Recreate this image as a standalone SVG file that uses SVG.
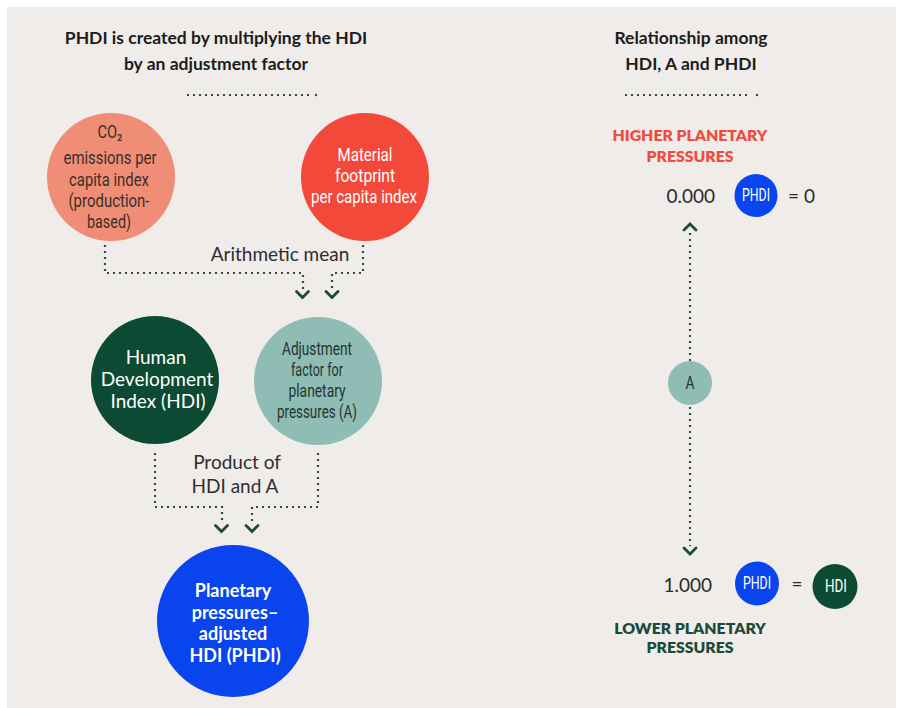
<svg xmlns="http://www.w3.org/2000/svg" width="899" height="708" viewBox="0 0 899 708">
  <defs>
    <style>
      .title { font-family: Lato, "Open Sans", sans-serif; font-weight: 700; font-size: 17.5px; fill: #1c1c1c; text-anchor: middle; }
      .cond { font-family: Roboto, "Liberation Sans", sans-serif; font-size: 17.5px; text-anchor: middle; }
      .body { font-family: Lato, "Open Sans", sans-serif; font-size: 19px; text-anchor: middle; }
      .bold { font-family: Lato, "Open Sans", sans-serif; font-weight: 700; font-size: 18px; text-anchor: middle; fill: #ffffff; }
      .caps { font-family: Lato, "Open Sans", sans-serif; font-weight: 800; font-size: 15.8px; text-anchor: middle; }
      .num { font-family: Lato, "Open Sans", sans-serif; font-size: 19px; fill: #2a2a2a; }
      .dots { fill: none; stroke: #2c4d40; stroke-width: 2.2; stroke-dasharray: 2 4; }
      .chev { fill: none; stroke: #1d4a38; stroke-width: 2.8; stroke-linecap: round; stroke-linejoin: miter; }
    </style>
  </defs>

  <!-- page -->
  <rect x="0" y="0" width="899" height="708" fill="#ffffff"/>
  <rect x="7" y="7" width="889" height="701" fill="#efecea"/>

  <!-- headings -->
  <g id="heading-left">
    <text class="title" x="216" y="44">PHDI is created by multiplying the HDI</text>
    <text class="title" x="216" y="70">by an adjustment factor</text>
    <line class="dots" x1="187" y1="95" x2="309" y2="95"/>
    <circle cx="316" cy="95" r="1.2" fill="#2c4d40"/>
  </g>
  <g id="heading-right">
    <text class="title" x="691" y="44">Relationship among</text>
    <text class="title" x="691" y="70">HDI, A and PHDI</text>
    <line class="dots" x1="625" y1="95" x2="750" y2="95"/>
    <circle cx="757" cy="95" r="1.2" fill="#2c4d40"/>
  </g>

  <!-- connectors -->
  <g id="connectors">
    <path class="dots" d="M105 245 V273 H303 V290"/>
    <path class="dots" d="M363 245 V273 H332 V290"/>
    <path class="chev" d="M296.5 291.5 L302.5 297.5 L308.5 291.5"/>
    <path class="chev" d="M326 291.5 L332 297.5 L338 291.5"/>

    <path class="dots" d="M155 453 V507 H222 V524"/>
    <path class="dots" d="M318 453 V507 H252 V524"/>
    <path class="chev" d="M215.5 525.5 L221.5 531.5 L227.5 525.5"/>
    <path class="chev" d="M246 525.5 L252 531.5 L258 525.5"/>

    <line class="dots" x1="690" y1="233" x2="690" y2="361"/>
    <line class="dots" x1="690" y1="407" x2="690" y2="546"/>
    <path class="chev" d="M684 230 L690 224 L696 230"/>
    <path class="chev" d="M684 548 L690 554 L696 548"/>
  </g>

  <g id="label-mean">
    <text class="body" x="280" y="261" fill="#2e2e2e">Arithmetic mean</text>
  </g>
  <g id="label-product">
    <text class="body" x="237" y="469" fill="#2e2e2e">Product of</text>
    <text class="body" x="235" y="493" fill="#2e2e2e">HDI and A</text>
  </g>

  <!-- nodes -->
  <g id="node-co2">
    <circle cx="111" cy="177" r="64" fill="#ef8d77"/>
    <text class="cond" fill="#3e2d28" x="110" y="138" textLength="25" lengthAdjust="spacingAndGlyphs">CO₂</text>
    <text class="cond" fill="#3e2d28" x="110" y="164" textLength="93" lengthAdjust="spacingAndGlyphs">emissions per</text>
    <text class="cond" fill="#3e2d28" x="109" y="186" textLength="80" lengthAdjust="spacingAndGlyphs">capita index</text>
    <text class="cond" fill="#3e2d28" x="109" y="207" textLength="81" lengthAdjust="spacingAndGlyphs">(production-</text>
    <text class="cond" fill="#3e2d28" x="109" y="228" textLength="44" lengthAdjust="spacingAndGlyphs">based)</text>
  </g>

  <g id="node-material">
    <circle cx="365" cy="177" r="64" fill="#f2493b"/>
    <text class="cond" fill="#ffffff" x="365" y="161" textLength="55" lengthAdjust="spacingAndGlyphs">Material</text>
    <text class="cond" fill="#ffffff" x="365" y="182" textLength="60" lengthAdjust="spacingAndGlyphs">footprint</text>
    <text class="cond" fill="#ffffff" x="364" y="203" textLength="106" lengthAdjust="spacingAndGlyphs">per capita index</text>
  </g>

  <g id="node-hdi">
    <circle cx="155" cy="380" r="64" fill="#0c4a33"/>
    <text class="body" fill="#ffffff" x="156" y="364">Human</text>
    <text class="body" fill="#ffffff" x="157" y="386">Development</text>
    <text class="body" fill="#ffffff" x="158" y="408">Index (HDI)</text>
  </g>

  <g id="node-a">
    <circle cx="318" cy="381" r="64" fill="#8fbcb4"/>
    <text class="cond" fill="#23352f" x="317" y="355" textLength="70" lengthAdjust="spacingAndGlyphs">Adjustment</text>
    <text class="cond" fill="#23352f" x="317" y="376" textLength="52" lengthAdjust="spacingAndGlyphs">factor for</text>
    <text class="cond" fill="#23352f" x="317" y="397" textLength="57" lengthAdjust="spacingAndGlyphs">planetary</text>
    <text class="cond" fill="#23352f" x="317" y="418" textLength="80" lengthAdjust="spacingAndGlyphs">pressures (A)</text>
  </g>

  <g id="node-phdi">
    <circle cx="233" cy="621" r="76" fill="#0a44ef"/>
    <text class="bold" x="233" y="596.5">Planetary</text>
    <text class="bold" x="235" y="618.5">pressures–</text>
    <text class="bold" x="233" y="639.5">adjusted</text>
    <text class="bold" x="235" y="661.5">HDI (PHDI)</text>
  </g>

  <!-- relationship scale -->
  <g id="label-higher">
    <text class="caps" fill="#f24b40" x="690" y="141">HIGHER PLANETARY</text>
    <text class="caps" fill="#f24b40" x="690" y="162">PRESSURES</text>
  </g>

  <g id="row-zero">
    <text class="num" x="715" y="203" text-anchor="end">0.000</text>
    <circle cx="756" cy="195.5" r="21.5" fill="#0a44ef"/>
    <text class="cond" fill="#ffffff" font-size="15" x="756" y="201" textLength="28" lengthAdjust="spacingAndGlyphs">PHDI</text>
    <text class="num" x="788" y="203">= 0</text>
  </g>

  <g id="node-a-small">
    <circle cx="690" cy="383" r="22" fill="#8fbcb4"/>
    <text class="cond" fill="#23352f" font-size="15" x="690" y="389" textLength="9" lengthAdjust="spacingAndGlyphs">A</text>
  </g>

  <g id="row-one">
    <text class="num" x="712" y="592" text-anchor="end">1.000</text>
    <circle cx="757" cy="583.5" r="22" fill="#0a44ef"/>
    <text class="cond" fill="#ffffff" font-size="15" x="757" y="589" textLength="28" lengthAdjust="spacingAndGlyphs">PHDI</text>
    <text class="num" x="797" y="591" text-anchor="middle">=</text>
    <circle cx="835" cy="586.5" r="22.5" fill="#0c4a33"/>
    <text class="cond" fill="#ffffff" font-size="15" x="836" y="592" textLength="22" lengthAdjust="spacingAndGlyphs">HDI</text>
  </g>

  <g id="label-lower">
    <text class="caps" fill="#1d4a38" x="690" y="634">LOWER PLANETARY</text>
    <text class="caps" fill="#1d4a38" x="690" y="653">PRESSURES</text>
  </g>
</svg>
